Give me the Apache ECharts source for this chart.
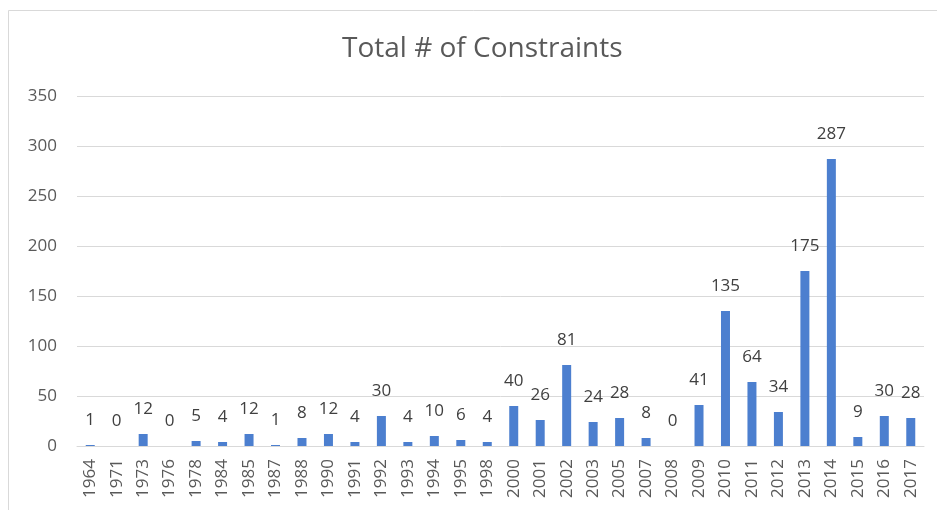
<!DOCTYPE html>
<html>
<head>
<meta charset="utf-8">
<script src="https://cdn.jsdelivr.net/npm/echarts@6/dist/echarts.min.js"></script>
<style>
html,body{margin:0;padding:0;background:#fff;}
#chart{width:937px;height:510px;}
</style>
</head>
<body>
<div id="chart"></div>
<script>
const titleText = "Total # of Constraints";
const years = ["1964","1971","1973","1976","1978","1984","1985","1987","1988","1990","1991","1992","1993","1994","1995","1998","2000","2001","2002","2003","2005","2007","2008","2009","2010","2011","2012","2013","2014","2015","2016","2017"];
const constraints = [1,0,12,0,5,4,12,1,8,12,4,30,4,10,6,4,40,26,81,24,28,8,0,41,135,64,34,175,287,9,30,28];
const yTicks = {min:0, max:350, interval:50};

const FONT = "'Open Sans', sans-serif";
const chart = echarts.init(document.getElementById('chart'), null, {renderer:'canvas'});
chart.setOption({
  backgroundColor:'#ffffff',
  animation:false,
  graphic:[{
    type:'rect', silent:true, z:-10,
    shape:{x:8.5, y:10.5, width:1000, height:600},
    style:{fill:'none', stroke:'#d9d9d9', lineWidth:1}
  }],
  title:{
    text:titleText, left:337, top:30,
    textStyle:{fontFamily:FONT, fontSize:28, fontWeight:'normal', color:'#595959'}
  },
  grid:{left:77, right:13, top:96, bottom:64, containLabel:false},
  xAxis:{
    type:'category', data:years,
    axisLine:{lineStyle:{color:'#d9d9d9', width:1}},
    axisTick:{show:false},
    axisLabel:{rotate:90, interval:0, margin:13, color:'#595959', fontSize:17, fontFamily:FONT}
  },
  yAxis:{
    type:'value', min:yTicks.min, max:yTicks.max, interval:yTicks.interval,
    axisLine:{show:false}, axisTick:{show:false},
    splitLine:{lineStyle:{color:'#d9d9d9', width:1}},
    axisLabel:{margin:20, color:'#595959', fontSize:17, fontFamily:FONT}
  },
  series:[{
    type:'bar', data:constraints, barWidth:9,
    itemStyle:{color:'#4c7fcf'},
    label:{show:true, position:'top', distance:16, color:'#404040', fontSize:17, fontFamily:FONT}
  }]
});
</script>
</body>
</html>
